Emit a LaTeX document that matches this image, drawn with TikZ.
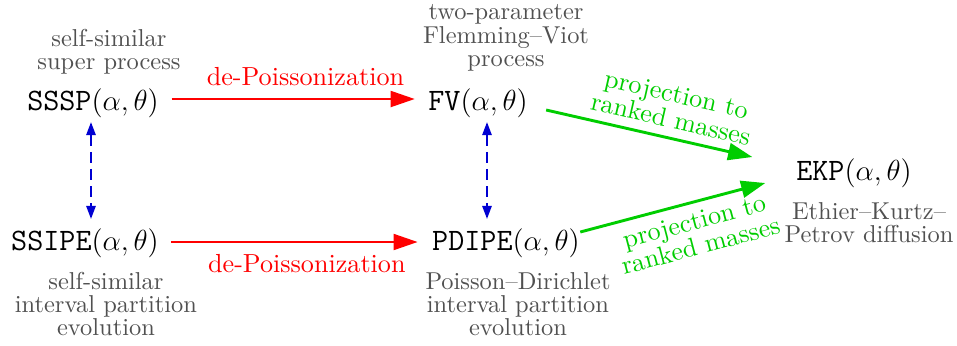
\documentclass[tikz,border=0pt]{standalone}
\usepackage{fontspec}
\usetikzlibrary{arrows.meta}
\definecolor{lblgray}{RGB}{80,80,80}
\definecolor{pgreen}{RGB}{0,205,0}
\definecolor{pblue}{RGB}{0,0,210}
\begin{document}
\begin{tikzpicture}[x=0.4133pt,y=-0.4133pt,
  proc/.style={inner sep=0pt,outer sep=0pt,font=\fontsize{12.9}{15.5}\selectfont},
  desc/.style={inner sep=0pt,text=lblgray,align=center,font=\fontsize{10.1}{9.6}\selectfont},
  redarr/.style={draw=red,line width=1.2pt,-{Triangle[length=10pt,width=6.5pt]}},
  greenarr/.style={draw=pgreen,line width=1.2pt,-{Triangle[length=10pt,width=7pt]}},
  bluearr/.style={draw=pblue,line width=1pt,dash pattern=on 4.5pt off 2.6pt,{Triangle[length=5.5pt,width=3.8pt]}-{Triangle[length=5.5pt,width=3.8pt]}},
  redlbl/.style={text=red,inner sep=0pt,font=\fontsize{10.8}{10}\selectfont},
  greenlbl/.style={text=pgreen,align=center,inner sep=3.5pt,font=\fontsize{10.8}{10.5}\selectfont}
]
\useasboundingbox (0,0) rectangle (957,345);
% process nodes
\node[proc] (sssp) at (93,103) {\texttt{SSSP}$(\alpha,\theta)$};
\node[proc] (fv) at (478,103) {\texttt{FV}$(\alpha,\theta)$};
\node[proc] (ssipe) at (85,243) {\texttt{SSIPE}$(\alpha,\theta)$};
\node[proc] (pdipe) at (506,243) {\texttt{PDIPE}$(\alpha,\theta)$};
\node[proc] (ekp) at (854,173) {\texttt{EKP}$(\alpha,\theta)$};
% descriptions
\node[desc] (dsssp) at (109,52) {self-similar\\super process};
\node[desc] (dfv) at (506,38) {two-parameter\\Flemming--Viot\\process};
\node[desc] (dssipe) at (106,304) {self-similar\\interval partition\\evolution};
\node[desc] (dpdipe) at (518,304) {Poisson--Dirichlet\\interval partition\\evolution};
\node[desc] (dekp) at (869,223) {Ethier--Kurtz--\\Petrov diffusion};
% de-Poissonization
\draw[redarr] ([shift={(13,-4)}]sssp.east) -- ([shift={(-13.5,-4)}]fv.west)
  node[redlbl,pos=0.55,above=4.9pt] (dp1) {de-Poissonization};
\draw[redarr] ([shift={(12.5,-1)}]ssipe.east) -- ([shift={(-14.5,-1)}]pdipe.west)
  node[redlbl,pos=0.55,below=4.5pt] (dp2) {de-Poissonization};
% vertical correspondences
\draw[bluearr] ([shift={(-2,4.4)}]sssp.south) -- ([shift={(6,-9.4)}]ssipe.north);
\draw[bluearr] ([shift={(9,4.4)}]fv.south) -- ([shift={(-19,-9.4)}]pdipe.north);
% projections
\draw[greenarr] ([shift={(18.5,7)}]fv.east) -- ([shift={(-44,-16)}]ekp.west)
  node[greenlbl,pos=0.585,above,sloped] (pr1) {projection to\\ranked masses};
\draw[greenarr] ([shift={(0.5,-11)}]pdipe.east) -- ([shift={(-31,10)}]ekp.west)
  node[greenlbl,pos=0.59,below,sloped] (pr2) {projection to\\ranked masses};
\end{tikzpicture}
\end{document}
